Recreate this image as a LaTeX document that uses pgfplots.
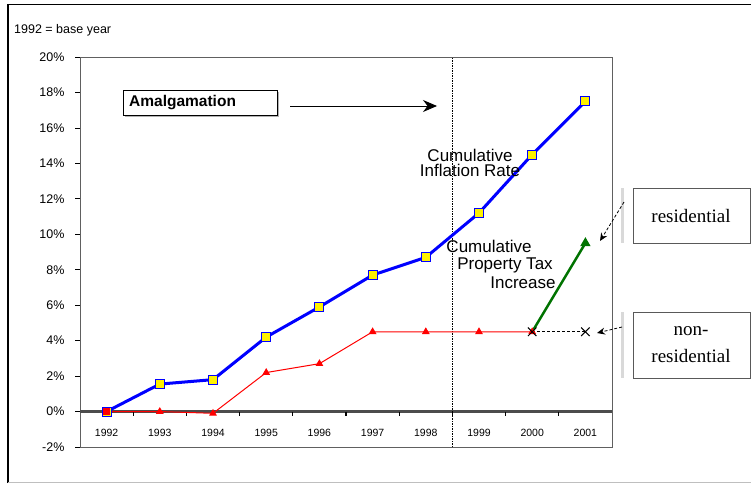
\documentclass[border=0pt]{standalone}
\usepackage{pgfplots}
\pgfplotsset{compat=1.18}
\usepackage{fontspec}
\setmainfont{Liberation Sans}
\newfontfamily\serif{Liberation Serif}
\usetikzlibrary{arrows.meta}
\begin{document}
\begin{tikzpicture}[x=1pt,y=1pt]
\useasboundingbox (0,0) rectangle (751,483);
\draw[line width=1.2pt] (8,0) -- (8,478.5) -- (751,478.5);
\draw[gray!50, line width=0.8pt] (8,1) -- (751,1);
\node[anchor=west, font=\fontsize{12.5}{13}\selectfont, inner sep=0pt] at (14,453) {1992 = base year};
\begin{axis}[
  at={(80pt,36pt)}, anchor=south west, scale only axis,
  width=532pt, height=390pt,
  xmin=-0.5, xmax=9.5, ymin=-2, ymax=20,
  axis line style={gray!75!black, line width=1pt},
  ytick={-2,0,...,20},
  yticklabel={\pgfmathprintnumber{\tick}\%},
  ytick pos=left, tick align=outside,
  major tick length=5pt,
  ytick style={black, line width=0.8pt},
  xtick={0,...,9},
  xticklabels={1992,1993,1994,1995,1996,1997,1998,1999,2000,2001},
  xtick style={draw=none},
  xticklabel style={anchor=center, yshift=19pt, font=\fontsize{10.5}{11}\selectfont},
  yticklabel style={font=\fontsize{12.5}{13}\selectfont, xshift=-7pt},
  /pgf/number format/assume math mode=true,
  clip=false,
]
% zero line
\draw[line width=2.2pt, gray!60!black] (axis cs:-0.5,0) -- (axis cs:9.5,0);
\pgfplotsinvokeforeach{0.5,1.5,2.5,3.5,4.5,5.5,6.5,7.5,8.5}{
  \draw[line width=1.2pt] (axis cs:#1,0) -- ([yshift=-4pt]axis cs:#1,0);
}
% amalgamation line
\draw[line width=1.5pt, densely dotted] (axis cs:6.5,-2) -- (axis cs:6.5,20);
% property tax (red)
\addplot[red, line width=1pt, mark=triangle*, mark size=3.5pt, mark options={fill=red}]
  coordinates {(0,0) (1,0) (2,-0.1) (3,2.2) (4,2.7) (5,4.5) (6,4.5) (7,4.5) (8,4.5)};
% residential
\addplot[green!45!black, line width=2.5pt, mark=triangle*, mark size=3.5pt, mark indices={2}]
  coordinates {(8,4.5) (9,9.5)};
% non-residential
\addplot[black, densely dashed, line width=0.8pt, mark=x, mark size=6pt, mark options={solid, line width=1pt}]
  coordinates {(8,4.5) (9,4.5)};
% inflation (blue)
\addplot[blue, line width=3pt, mark=square*, mark size=4.5pt, mark options={fill=yellow, draw=blue, line width=1pt}]
  coordinates {(0,0) (1,1.55) (2,1.8) (3,4.2) (4,5.9) (5,7.7) (6,8.7) (7,11.2) (8,14.5) (9,17.5)};
\addplot[only marks, mark=square*, mark size=3pt, mark options={fill=red, draw=red}] coordinates {(0,0)};
\end{axis}
% Amalgamation box + arrow
\fill[gray!60] (125,366) rectangle (279,391);
\draw[fill=white, line width=0.8pt] (123,368) rectangle (277,393);
\node[anchor=west, font=\fontsize{15.5}{16}\bfseries\selectfont, inner sep=0pt] at (129,380.5) {Amalgamation};
\draw[line width=1pt, -{Stealth[length=14pt, width=12pt]}] (290,377) -- (437,377);
% inflation text
\node[align=center, font=\fontsize{17}{15.5}\selectfont, inner sep=0pt] at (470,320) {Cumulative\\Inflation Rate};
% property tax text
\node[font=\fontsize{17}{17}\selectfont, inner sep=0pt] at (489,237) {Cumulative};
\node[font=\fontsize{17}{17}\selectfont, inner sep=0pt] at (505,218) {Property Tax};
\node[font=\fontsize{17}{17}\selectfont, inner sep=0pt] at (523,200) {Increase};
% right boxes
\draw[gray!30, line width=3pt] (622,295) -- (622,240);
\draw[gray!70!black, line width=0.8pt] (633,295) -- (750,295) -- (750,240) -- (633,240) -- cycle;
\node[font=\serif\fontsize{19}{19}\selectfont] at (691,267) {residential};
\draw[gray!30, line width=3pt] (622,171) -- (622,105);
\draw[gray!70!black, line width=0.8pt] (633,171) -- (750,171) -- (750,105) -- (633,105) -- cycle;
\node[align=center, font=\serif\fontsize{19}{27}\selectfont] at (691,138) {non-\\residential};
\draw[densely dashed, line width=0.8pt, -{Stealth[length=8pt, width=7pt]}] (624,281) -- (600,242);
\draw[densely dashed, line width=0.8pt, -{Stealth[length=8pt, width=7pt]}] (622,156) -- (597,150);
\end{tikzpicture}
\end{document}
